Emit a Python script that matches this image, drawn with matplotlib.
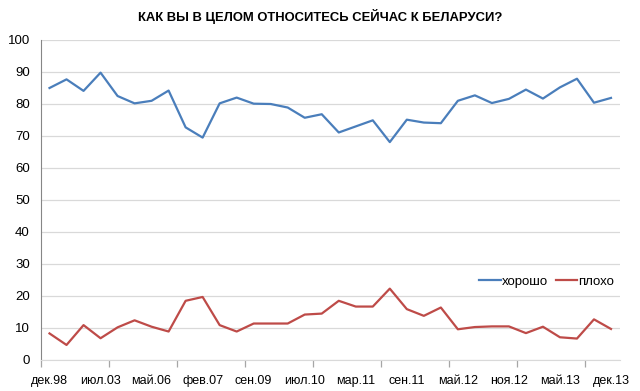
import numpy as np
import matplotlib
matplotlib.use('Agg')
import matplotlib.pyplot as plt

# survey dates (only every 3rd one is labelled on the axis)
labels = ['дек.98', 'июл.03', 'май.06', 'фев.07', 'сен.09', 'июл.10',
          'мар.11', 'сен.11', 'май.12', 'ноя.12', 'май.13', 'дек.13']
label_step = 3

good = [85.0, 87.7, 84.1, 89.8, 82.5, 80.2, 81.0, 84.2, 72.7, 69.5,
        80.2, 82.0, 80.1, 80.0, 78.9, 75.7, 76.8, 71.1, 73.0, 74.9,
        68.1, 75.1, 74.2, 74.0, 81.0, 82.7, 80.3, 81.6, 84.5, 81.7,
        85.2, 87.9, 80.4, 81.9]
bad = [8.3, 4.7, 10.9, 6.8, 10.2, 12.4, 10.4, 8.9, 18.5, 19.7,
       10.9, 8.9, 11.4, 11.4, 11.4, 14.2, 14.5, 18.5, 16.7, 16.7,
       22.3, 15.9, 13.8, 16.4, 9.6, 10.3, 10.5, 10.5, 8.4, 10.4,
       7.1, 6.7, 12.7, 9.7]

title = 'КАК ВЫ В ЦЕЛОМ ОТНОСИТЕСЬ СЕЙЧАС К БЕЛАРУСИ?'

plt.rcParams['font.family'] = ['Liberation Sans', 'DejaVu Sans']

fig = plt.figure(figsize=(6.4, 3.91), dpi=100)
ax = fig.add_axes([41/640, 1-360/391, (619.5-41)/640, 320/391])

x = np.arange(len(good))
ax.plot(x, good, color='#4a7ebb', lw=1.6, label='хорошо')
ax.plot(x, bad, color='#be4b48', lw=1.6, label='плохо')

ax.set_xlim(-0.5, len(good) - 0.5)
ax.set_ylim(0, 100)
ax.set_yticks(np.arange(0, 101, 10))
ax.yaxis.grid(True, color='#d9d9d9', lw=0.9)
ax.set_axisbelow(True)

# labels every 3rd point, tick marks every 4 categories between points
ax.set_xticks(x[::label_step])
ax.set_xticklabels(labels)
ax.set_xticks(np.arange(-0.5, len(good) - 1, 4), minor=True)
ax.tick_params(axis='x', which='major', length=0, pad=11, labelsize=9)
ax.tick_params(axis='x', which='minor', length=5, color='#a6a6a6', width=0.9)
ax.tick_params(axis='y', length=0, pad=8, labelsize=9.5)

for s in ['top', 'right']:
    ax.spines[s].set_visible(False)
ax.spines['left'].set_color('#868686')
ax.spines['bottom'].set_color('#d9d9d9')

ax.legend(loc='center right', bbox_to_anchor=(1.0, 0.245), ncol=2, frameon=False,
          fontsize=9.5, handlelength=1.6, handletextpad=0.1, columnspacing=0.6,
          borderaxespad=0)

fig.text(0.5, 1-17/391, title, ha='center', va='center', fontsize=9.4,
         fontweight='bold')

fig.savefig('out.png', dpi=100)
